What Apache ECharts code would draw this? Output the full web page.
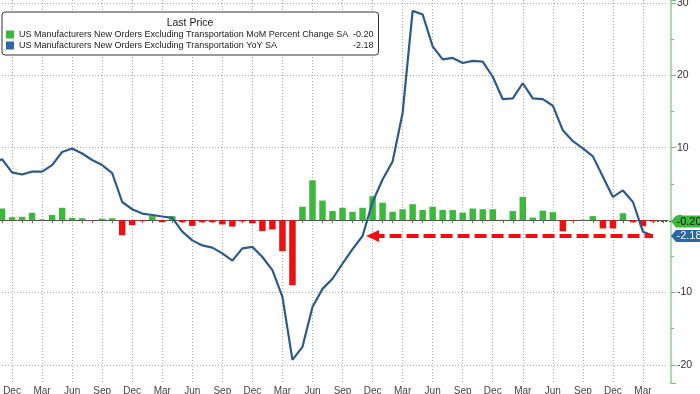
<!DOCTYPE html>
<html>
<head>
<meta charset="utf-8">
<script src="https://cdn.jsdelivr.net/npm/echarts@6/dist/echarts.min.js"></script>
<style>
html,body{margin:0;padding:0;background:#fff;}
#chart{width:700px;height:394px;}
</style>
</head>
<body>
<div id="chart"></div>
<script>
// ---- data ----
const categories = [
  '2017-10','2017-11','2017-12',
  '2018-01','2018-02','2018-03','2018-04','2018-05','2018-06','2018-07','2018-08','2018-09','2018-10','2018-11','2018-12',
  '2019-01','2019-02','2019-03','2019-04','2019-05','2019-06','2019-07','2019-08','2019-09','2019-10','2019-11','2019-12',
  '2020-01','2020-02','2020-03','2020-04','2020-05','2020-06','2020-07','2020-08','2020-09','2020-10','2020-11','2020-12',
  '2021-01','2021-02','2021-03','2021-04','2021-05','2021-06','2021-07','2021-08','2021-09','2021-10','2021-11','2021-12',
  '2022-01','2022-02','2022-03','2022-04','2022-05','2022-06','2022-07','2022-08','2022-09','2022-10','2022-11','2022-12',
  '2023-01','2023-02','2023-03','2023-04','2023-05'
];
const momValues = [
  null, 1.6, 0.4,
  0.45, 1.0, 0.1, 0.7, 1.7, 0.3, 0.25, -0.05, 0.2, 0.25, -2.1, -0.7,
  -0.15, 0.55, -0.3, 0.55, -0.3, -0.8, -0.3, -0.3, -0.6, -0.9, -0.2, -0.45,
  -1.5, -1.3, -4.3, -9.0, 1.85, 5.5, 2.7, 1.25, 1.7, 1.15, 1.7, 3.3,
  2.4, 1.15, 1.5, 2.2, 1.4, 1.85, 1.4, 1.4, 1.05, 1.6, 1.5, 1.5,
  0.05, 1.25, 3.2, 0.35, 1.3, 1.1, -1.55, -0.1, 0.05, 0.55, -1.15, -1.15,
  0.95, -0.3, -0.85, -0.2, null
];
const yoyValues = [
  7.9, 8.4, 6.6,
  6.3, 6.7, 6.7, 7.6, 9.4, 9.9, 9.2, 8.3, 7.6, 6.5, 2.5, 1.5,
  0.9, 0.7, 0.5, 0.3, -1.6, -2.8, -3.5, -3.8, -4.6, -5.6, -3.9, -3.7,
  -5.1, -6.9, -10.6, -19.3, -17.5, -12.0, -9.5, -8.1, -6.0, -4.0, -2.2, 2.5,
  5.6, 8.1, 14.8, 28.9, 28.4, 24.0, 22.2, 22.4, 21.7, 22.0, 21.9, 19.8,
  16.7, 16.8, 18.9, 16.8, 16.7, 15.8, 12.4, 10.9, 9.9, 8.8, 6.0, 3.2,
  4.1, 2.5, -1.6, -2.18, null
];
const seriesNames = [
  'US Manufacturers New Orders Excluding Transportation MoM Percent Change SA',
  'US Manufacturers New Orders Excluding Transportation YoY SA'
];
const lastValues = [-0.20, -2.18];
const lastLabels = ['-0.20', '-2.18'];
const monthNames = ['Jan','Feb','Mar','Apr','May','Jun','Jul','Aug','Sep','Oct','Nov','Dec'];
const tickMonths = ['Dec','Mar','Jun','Sep'];
const arrowFrom = '2020-12';
const arrowTo = '2023-04';
const legendTitle = 'Last Price';

// ---- style ----
const FONT = "'Liberation Sans', Arial, sans-serif";
const GREEN = '#3cb93c';
const RED = '#ee1010';
const BLUE = '#2c5b8b';
const BLUE_TAG = '#2c66a6';
const GREEN_TAG = '#3cb93c';

const monthOf = v => monthNames[parseInt(v.slice(5), 10) - 1];
const isLabel = v => tickMonths.indexOf(monthOf(v)) >= 0;

const chart = echarts.init(document.getElementById('chart'), null, {renderer: 'canvas'});

const option = {
  animation: false,
  backgroundColor: '#ffffff',
  textStyle: {fontFamily: FONT},
  grid: {left: -13, right: 32, top: 0, bottom: 11, containLabel: false, outerBoundsMode: 'none'},
  legend: {
    left: 2, top: 12, orient: 'vertical', icon: 'rect',
    itemWidth: 8, itemHeight: 8, itemGap: 0,
    padding: [17, 5, 4, 4],
    borderColor: '#333', borderWidth: 1, borderRadius: 3,
    backgroundColor: '#ffffff', selectedMode: false,
    data: [
      {name: seriesNames[0], itemStyle: {color: GREEN}},
      {name: seriesNames[1], itemStyle: {color: BLUE_TAG}}
    ],
    formatter: function (name) {
      const i = seriesNames.indexOf(name);
      return '{n|' + name + '}{v|' + lastLabels[i] + '}';
    },
    textStyle: {
      fontSize: 9, color: '#222', fontFamily: FONT, lineHeight: 11,
      rich: {
        n: {width: 334, fontSize: 9, color: '#222', fontFamily: FONT, lineHeight: 11},
        v: {fontSize: 9, color: '#222', fontFamily: FONT, lineHeight: 11}
      }
    }
  },
  xAxis: {
    type: 'category', data: categories, boundaryGap: true,
    axisLine: {show: true, lineStyle: {color: '#555', width: 1}},
    axisTick: {show: true, alignWithLabel: true, length: 3,
      interval: function (i, v) { return !isLabel(v); },
      lineStyle: {color: '#666'}},
    axisLabel: {
      interval: function (i, v) { return isLabel(v); },
      formatter: function (v) { return monthOf(v); },
      color: '#444', fontSize: 10, margin: 3, fontFamily: FONT
    },
    splitLine: {show: true, alignWithLabel: true,
      interval: function (i, v) { return isLabel(v); },
      lineStyle: {color: '#aaa', type: [1, 2], width: 1}}
  },
  yAxis: {
    type: 'value', position: 'right', offset: 3,
    min: -22.5, max: 30.4, minInterval: 10, maxInterval: 10,
    axisLine: {show: true, lineStyle: {color: '#8fd18f', width: 1.5}},
    axisTick: {show: true, length: 5, lineStyle: {color: '#74c274'}},
    minorTick: {show: true, splitNumber: 2, length: 3, lineStyle: {color: '#74c274'}},
    axisLabel: {
      color: '#333', fontSize: 10.5, margin: 6, fontFamily: FONT,
      showMinLabel: false, showMaxLabel: false,
      formatter: function (v) { return (Math.abs(v % 10) < 1e-9) ? String(v) : ''; }
    },
    splitLine: {show: true, showMinLine: false, showMaxLine: false,
      lineStyle: {color: '#aaa', type: [1, 2], width: 1}}
  },
  series: [
    {
      name: seriesNames[0], type: 'bar', barWidth: 6.5,
      itemStyle: {color: GREEN},
      data: momValues.map(function (v) {
        return v == null ? null : {value: v, itemStyle: {color: v >= 0 ? GREEN : RED}};
      }),
      z: 2
    },
    {
      name: seriesNames[1], type: 'line', data: yoyValues,
      symbol: 'none', showSymbol: false,
      lineStyle: {color: BLUE, width: 2.2}, itemStyle: {color: BLUE_TAG},
      z: 3,
      markLine: {
        silent: true, animation: false,
        symbol: ['triangle', 'none'], symbolSize: [12, 13],
        label: {show: false},
        lineStyle: {color: RED, width: 4, type: [12, 5]},
        emphasis: {disabled: true},
        data: [[{coord: [arrowFrom, lastValues[1]]}, {coord: [arrowTo, lastValues[1]]}]]
      }
    }
  ]
};

chart.setOption(option);

// ---- right-side value tags & legend title, positioned through the chart's own scales ----
const lastCat = categories[categories.length - 1];
const prevCat = categories[categories.length - 2];
const pLast = chart.convertToPixel({xAxisIndex: 0}, lastCat);
const pPrev = chart.convertToPixel({xAxisIndex: 0}, prevCat);
const band = pLast - pPrev;
const axisX = pLast + band / 2 + 3;
const tagColors = [GREEN_TAG, BLUE_TAG];
const tagText = ['#0b160b', '#ffffff'];
const graphics = [];
lastValues.forEach(function (v, i) {
  const y = chart.convertToPixel({yAxisIndex: 0}, v);
  const h = 6;
  graphics.push({
    type: 'polygon', z: 100,
    shape: {points: [[axisX, y], [axisX + 5, y - h], [axisX + 40, y - h], [axisX + 40, y + h], [axisX + 5, y + h]]},
    style: {fill: tagColors[i]}
  });
  graphics.push({
    type: 'text', z: 101, x: axisX + 18, y: y,
    style: {text: lastLabels[i], fill: tagText[i], font: '11px ' + FONT, textAlign: 'center', textVerticalAlign: 'middle'}
  });
});
// dotted connector from the last bar to its tag
const yBar = chart.convertToPixel({yAxisIndex: 0}, lastValues[0]);
graphics.push({
  type: 'line', z: 50,
  shape: {x1: pPrev + 4, y1: yBar, x2: axisX, y2: yBar},
  style: {stroke: '#9a2a2a', lineWidth: 1, lineDash: [2, 2]}
});
graphics.push({
  type: 'text', z: 200, x: 190, y: 23,
  style: {text: legendTitle, fill: '#222', font: '10.5px ' + FONT, textAlign: 'center', textVerticalAlign: 'middle'}
});
chart.setOption({graphic: graphics});
</script>
</body>
</html>
